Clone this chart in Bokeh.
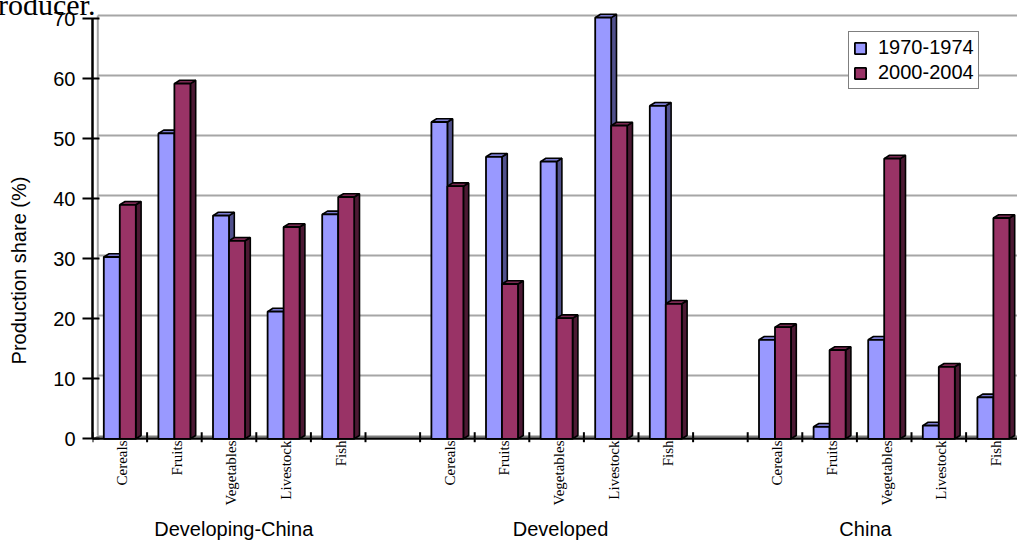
import math
from bokeh.plotting import figure
from bokeh.layouts import column
from bokeh.models import Range1d, FixedTicker, Legend, LegendItem, Div
from bokeh.core.properties import value
from bokeh.embed import file_html
from bokeh.resources import INLINE

# ---------------- data ----------------
groups = ["Developing-China", "Developed", "China"]
products = ["Cereals", "Fruits", "Vegetables", "Livestock", "Fish"]
series_names = ["1970-1974", "2000-2004"]
share_1970_1974 = [30.3, 50.9, 37.2, 21.2, 37.4,
                   52.8, 47.0, 46.2, 70.2, 55.5,
                   16.5, 2.0, 16.5, 2.2, 6.9]
share_2000_2004 = [39.0, 59.2, 33.0, 35.3, 40.3,
                   42.1, 25.8, 20.1, 52.2, 22.5,
                   18.6, 14.8, 46.7, 12.0, 36.8]
y_ticks = [0, 10, 20, 30, 40, 50, 60, 70]
y_axis_title = "Production share (%)"
cut_text = "producer."

# ---------------- layout ----------------
W, H = 1017, 540
LEFT = 92
PX_X = 54.6      # px per category slot
PX_Y = 6.0       # px per percent
ZERO_Y = 438.3   # px of value 0 from top
x_start = -0.5
x_end = x_start + (W - LEFT) / PX_X
y_end = ZERO_Y / PX_Y
y_start = -(H - ZERO_Y) / PX_Y

BW = 16 / PX_X           # bar width
DX = 5.3 / PX_X          # depth offset x
DY = 3.3 / PX_Y          # depth offset y

slots_per_group = len(products) + 1
slots = [g * slots_per_group + k for g in range(len(groups)) for k in range(len(products))]
cat_labels = [products[k] for g in range(len(groups)) for k in range(len(products))]

p = figure(width=W, height=H, x_range=Range1d(x_start, x_end), y_range=Range1d(y_start, y_end),
           output_backend="svg", toolbar_location=None, x_axis_location=None,
           min_border_left=LEFT, min_border_right=0, min_border_top=0, min_border_bottom=0,
           outline_line_color=None, background_fill_color="white", border_fill_color="white")
p.grid.visible = False

# back wall gridlines
grid_vals = [t for t in y_ticks if t > 0]
p.segment(x0=[x_start + DX] * len(grid_vals), y0=[t + DY for t in grid_vals],
          x1=[x_end] * len(grid_vals), y1=[t + DY for t in grid_vals],
          line_color="#a6a6a6", line_width=2)
p.segment(x0=[x_start + DX], y0=[DY], x1=[x_start + DX], y1=[max(y_ticks) + DY],
          line_color="#a6a6a6", line_width=2)

# floor
p.patch([x_start, x_start + DX, x_end, x_end], [0, DY, DY, 0],
        fill_color="#808080", line_color=None)
p.segment(x0=[x_start], y0=[0], x1=[x_end], y1=[0], line_color="black", line_width=2)
bounds = [s - 0.5 for s in range(0, int(math.ceil(x_end + 0.5)))]
bounds = [b for b in bounds if b <= x_end]
p.segment(x0=bounds, y0=[6.6 / PX_Y] * len(bounds), x1=bounds, y1=[-3.4 / PX_Y] * len(bounds),
          line_color="black", line_width=2)


def bar3d(centers, vals, front, top, side):
    side_xs, side_ys, top_xs, top_ys = [], [], [], []
    for c, v in zip(centers, vals):
        xl, xr = c - BW / 2, c + BW / 2
        side_xs.append([xr, xr + DX, xr + DX, xr])
        side_ys.append([0, DY, v + DY, v])
        top_xs.append([xl, xl + DX, xr + DX, xr])
        top_ys.append([v, v + DY, v + DY, v])
    p.patches(side_xs, side_ys, fill_color=side, line_color="black", line_width=1.6)
    p.patches(top_xs, top_ys, fill_color=top, line_color="black", line_width=1.6)
    return p.vbar(x=centers, width=BW, top=vals, bottom=0, fill_color=front,
                  line_color="black", line_width=1.8)


blue_c = [s - BW / 2 for s in slots]
red_c = [s + BW / 2 for s in slots]
r1 = bar3d(blue_c, share_1970_1974, "#9999FF", "#7a7ad0", "#50508c")
r2 = bar3d(red_c, share_2000_2004, "#993366", "#7a2952", "#4c1933")

# category labels (rotated)
p.text(x=slots, y=[0] * len(slots), text=cat_labels, angle=math.pi / 2,
       text_align="right", text_baseline="alphabetic", x_offset=2.4, y_offset=1.7,
       text_font=value("Liberation Serif"), text_font_size="15px", text_color="black")

# group labels
group_centers = [g * slots_per_group + (len(products) - 1) / 2 for g in range(len(groups))]
p.text(x=group_centers, y=[0] * len(groups), text=groups, x_offset=[4.8, 3.9, -18.7],
       y_offset=90.5, text_align="center", text_baseline="alphabetic",
       text_font=value("Liberation Sans"), text_font_size="20px", text_color="black")

# y axis
ax = p.yaxis[0]
ax.ticker = FixedTicker(ticks=y_ticks)
ax.bounds = (min(y_ticks), max(y_ticks))
ax.axis_line_width = 2.5
ax.axis_line_color = "black"
ax.major_tick_in = 7
ax.major_tick_out = 10
ax.major_tick_line_width = 2
ax.major_tick_line_color = "black"
ax.minor_tick_line_color = None
ax.major_label_standoff = 7
ax.major_label_text_font = "Liberation Sans"
ax.major_label_text_font_size = "20px"
ax.major_label_text_color = "black"
ax.axis_label = y_axis_title
ax.axis_label_text_font = "Liberation Sans"
ax.axis_label_text_font_size = "20px"
ax.axis_label_text_font_style = "normal"
ax.axis_label_text_color = "black"
ax.axis_label_standoff = 20

# legend
legend = Legend(items=[LegendItem(label=series_names[0], renderers=[r1]),
                       LegendItem(label=series_names[1], renderers=[r2])],
                location=(756, 451), orientation="vertical",
                label_text_font="Liberation Sans", label_text_font_size="20px",
                label_text_color="black", glyph_width=14, glyph_height=14,
                label_standoff=11, padding=4, spacing=2, margin=0,
                border_line_color="black", border_line_width=1.5,
                background_fill_color="white", background_fill_alpha=1.0)
p.add_layout(legend, "center")

# cut-off text of the surrounding document, overlaid at the top-left corner
note = Div(text=cut_text, width=130, height=30,
           styles={"position": "absolute", "left": "-17px", "top": "-10px",
                   "font-family": "Liberation Serif", "font-size": "30px",
                   "line-height": "30px", "color": "black", "white-space": "nowrap",
                   "z-index": "10", "margin": "0", "padding": "0"})

layout = column(p, note)
open("out.html", "w").write(file_html(layout, INLINE))
